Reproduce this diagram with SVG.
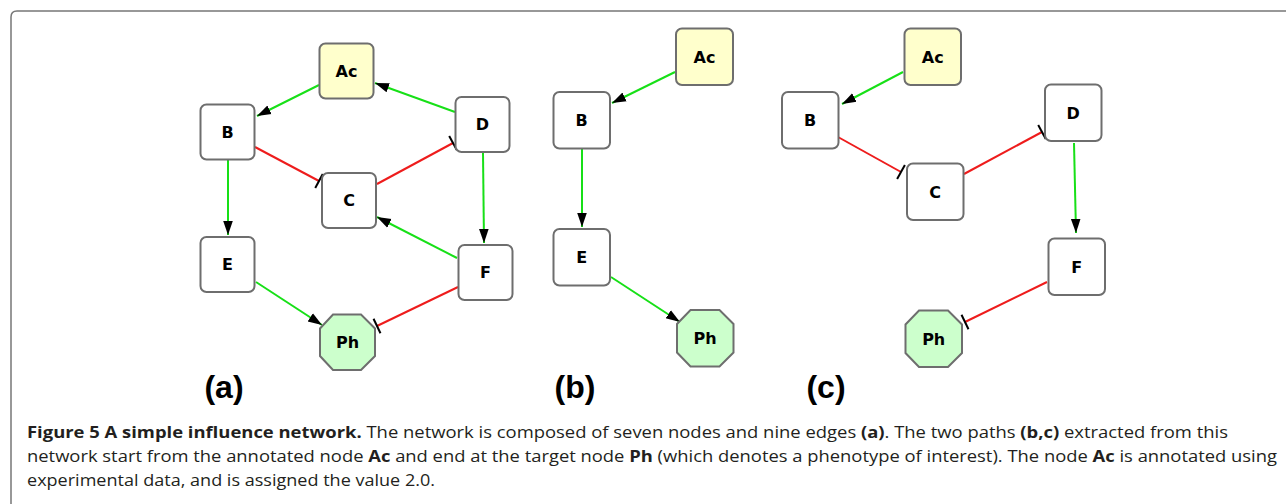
<svg xmlns="http://www.w3.org/2000/svg" width="1286" height="504" viewBox="0 0 1286 504">
<style>
.n{fill:#fff;stroke:#6e6e6e;stroke-width:2}
.ac{fill:#ffffcc}
.ph{fill:#ccffcc}
.t{font-family:"DejaVu Sans",sans-serif;font-weight:bold;font-size:16px;text-anchor:middle;dominant-baseline:central;fill:#000}
.g{stroke:#17e017;stroke-width:2;fill:none;marker-end:url(#arr)}
.r{stroke:#ee1c1c;stroke-width:2;fill:none;marker-end:url(#bar)}
.lab{font-family:"Liberation Sans",Arial,sans-serif;font-weight:bold;font-size:32px;text-anchor:middle;fill:#000}
.cap{font-family:"Open Sans","Liberation Sans",sans-serif;font-size:16.5px;fill:#231f20}
.b{font-weight:bold}
</style>
<defs>
<marker id="arr" markerUnits="userSpaceOnUse" markerWidth="15" markerHeight="12" viewBox="0 0 15 12" refX="14" refY="6" orient="auto">
<path d="M0,1.2 L14,6 L0,10.8 Z" fill="#000"/>
</marker>
<marker id="bar" markerUnits="userSpaceOnUse" markerWidth="6" markerHeight="18" viewBox="0 0 6 18" refX="3" refY="9" orient="auto">
<line x1="3" y1="1" x2="3" y2="17" stroke="#000" stroke-width="2"/>
</marker>
</defs>
<path d="M11,504 L11,17 Q11,11 17,11 L1286,11" fill="none" stroke="#777" stroke-width="1.5"/>

<g id="connectors">
<line class="g" x1="319" y1="85" x2="257" y2="116"/>
<line class="g" x1="455" y1="112" x2="375" y2="83"/>
<line class="r" x1="255" y1="147" x2="319" y2="181"/>
<line class="r" x1="377" y1="184" x2="453" y2="143"/>
<line class="g" x1="228" y1="159" x2="228" y2="235"/>
<line class="g" x1="483" y1="153" x2="484" y2="243"/>
<line class="g" x1="457" y1="258" x2="377" y2="217"/>
<line class="g" x1="256" y1="282" x2="322" y2="325"/>
<line class="r" x1="458" y1="287" x2="377" y2="326"/>
<line class="g" x1="675" y1="72" x2="612" y2="103"/>
<line class="g" x1="582" y1="149" x2="582" y2="227"/>
<line class="g" x1="611" y1="277" x2="680" y2="322"/>
<line class="g" x1="903" y1="72" x2="842" y2="104"/>
<line class="r" x1="838" y1="137" x2="901" y2="172"/>
<line class="r" x1="964" y1="174" x2="1042" y2="132"/>
<line class="g" x1="1074" y1="143" x2="1076" y2="233"/>
<line class="r" x1="1047" y1="282" x2="965" y2="322"/>
</g>

<g id="a-Ac"><rect class="n ac" x="319.5" y="43.5" width="54" height="55" rx="6"/><text class="t" x="346.5" y="71">Ac</text></g>
<g id="a-B"><rect class="n" x="200.5" y="104.5" width="54" height="55" rx="6"/><text class="t" x="227.5" y="132">B</text></g>
<g id="a-D"><rect class="n" x="455.5" y="97" width="54" height="55" rx="6"/><text class="t" x="482.5" y="124.5">D</text></g>
<g id="a-C"><rect class="n" x="322" y="173" width="54" height="55" rx="6"/><text class="t" x="349" y="200.5">C</text></g>
<g id="a-E"><rect class="n" x="200.5" y="237" width="54" height="55" rx="6"/><text class="t" x="227.5" y="264.5">E</text></g>
<g id="a-F"><rect class="n" x="458.5" y="245" width="54" height="55" rx="6"/><text class="t" x="485.5" y="272.5">F</text></g>
<g id="a-Ph"><polygon class="n ph" points="333,314.5 361,314.5 375,328.5 375,356 361,370 333,370 320,356 320,328.5"/><text class="t" x="347.5" y="342">Ph</text></g>

<g id="b-Ac"><rect class="n ac" x="676" y="28.5" width="57" height="56.5" rx="6"/><text class="t" x="704.5" y="57">Ac</text></g>
<g id="b-B"><rect class="n" x="553.5" y="92" width="56.5" height="56.5" rx="6"/><text class="t" x="581.7" y="120.5">B</text></g>
<g id="b-E"><rect class="n" x="553.5" y="229" width="56.5" height="56.5" rx="6"/><text class="t" x="581.7" y="257.5">E</text></g>
<g id="b-Ph"><polygon class="n ph" points="690.5,310 719.5,310 733.5,324 733.5,352.5 719.5,366.5 690.5,366.5 677,352.5 677,324"/><text class="t" x="705" y="338.5">Ph</text></g>

<g id="c-Ac"><rect class="n ac" x="904.5" y="28.5" width="56.5" height="56.5" rx="6"/><text class="t" x="932.7" y="57">Ac</text></g>
<g id="c-B"><rect class="n" x="782" y="92" width="56.5" height="56.5" rx="6"/><text class="t" x="810.2" y="120.5">B</text></g>
<g id="c-D"><rect class="n" x="1045" y="84.5" width="56.5" height="56.5" rx="6"/><text class="t" x="1073.2" y="113">D</text></g>
<g id="c-C"><rect class="n" x="907" y="163.5" width="56.5" height="56.5" rx="6"/><text class="t" x="935.2" y="192">C</text></g>
<g id="c-F"><rect class="n" x="1048.5" y="238.5" width="56.5" height="56.5" rx="6"/><text class="t" x="1076.7" y="267">F</text></g>
<g id="c-Ph"><polygon class="n ph" points="919,310.5 948,310.5 962,324.5 962,353 948,367 919,367 905.5,353 905.5,324.5"/><text class="t" x="933.7" y="339">Ph</text></g>

<text class="lab" x="224" y="398">(a)</text>
<text class="lab" x="575" y="398">(b)</text>
<text class="lab" x="826" y="398">(c)</text>

<text class="cap" x="27" y="438" textLength="1201" lengthAdjust="spacingAndGlyphs"><tspan class="b">Figure 5 A simple influence network.</tspan> The network is composed of seven nodes and nine edges <tspan class="b">(a)</tspan>. The two paths <tspan class="b">(b,c)</tspan> extracted from this</text>
<text class="cap" x="27" y="462" textLength="1250" lengthAdjust="spacingAndGlyphs">network start from the annotated node <tspan class="b">Ac</tspan> and end at the target node <tspan class="b">Ph</tspan> (which denotes a phenotype of interest). The node <tspan class="b">Ac</tspan> is annotated using</text>
<text class="cap" x="27" y="486" textLength="408" lengthAdjust="spacingAndGlyphs">experimental data, and is assigned the value 2.0.</text>
</svg>
